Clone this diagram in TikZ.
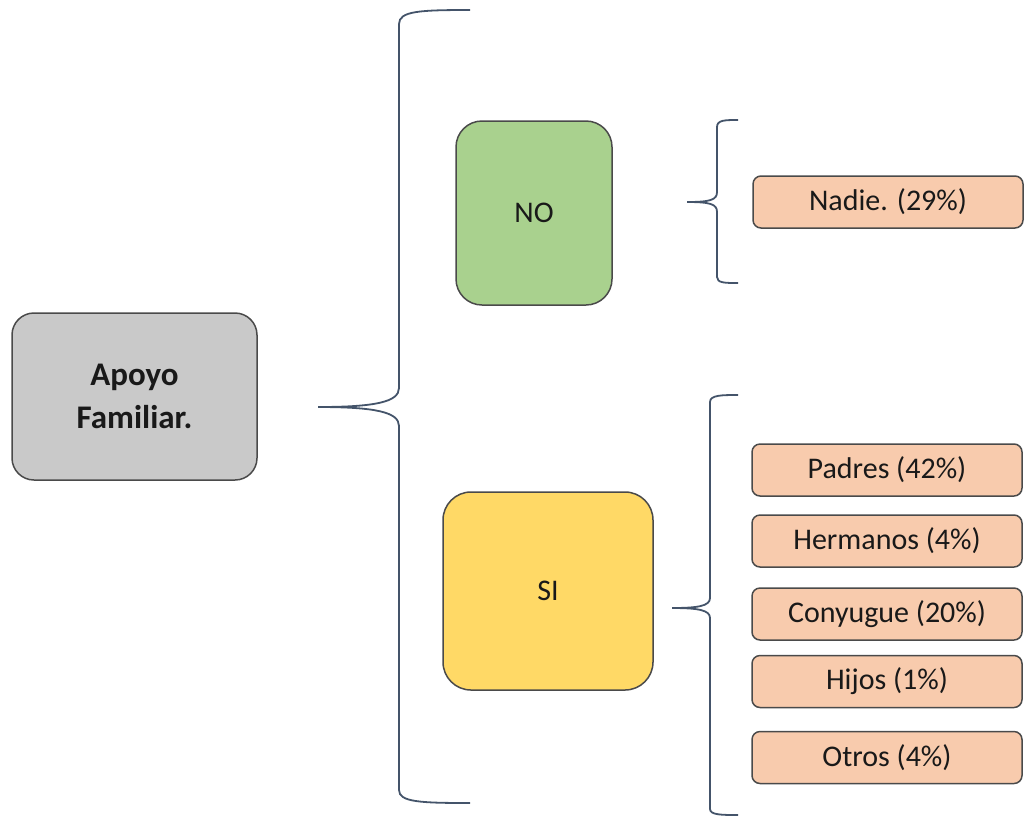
\documentclass[tikz,border=0pt]{standalone}
\usepackage{fontspec}
\setmainfont{Carlito}
\definecolor{graybox}{HTML}{C9C9C9}
\definecolor{greenbox}{HTML}{A9D18E}
\definecolor{yellowbox}{HTML}{FFD966}
\definecolor{orangebox}{HTML}{F8CBAD}
\definecolor{bracecol}{HTML}{44546A}
\definecolor{edgecol}{HTML}{4A4A4A}
\begin{document}
\begin{tikzpicture}[x=1pt,y=-1pt,
  box/.style={draw=edgecol,line width=1.5pt,rectangle,inner sep=0pt,text=black!90,font=\fontsize{30}{35}\selectfont},
  item/.style={box,fill=orangebox,rounded corners=8pt,minimum width=270pt,minimum height=52pt},
  brace/.style={draw=bracecol,line width=1.8pt}]
\useasboundingbox (0,0) rectangle (1024,820);
\node[box,fill=graybox,rounded corners=22pt,minimum width=245pt,minimum height=167pt,align=center,font=\fontsize{33}{43}\selectfont\bfseries] (apoyo) at (134.5,396.5) {Apoyo\\Familiar.};
\node[box,fill=greenbox,rounded corners=26pt,minimum width=156pt,minimum height=184pt] (no) at (534,213) {NO};
\node[box,fill=yellowbox,rounded corners=28pt,minimum width=210pt,minimum height=198pt] (si) at (548,591) {SI};
\node[item] (nadie) at (888,202) {Nadie. (29\%)};
\node[item] (padres) at (887,470) {Padres (42\%)};
\node[item] (hermanos) at (887,541) {Hermanos (4\%)};
\node[item] (conyugue) at (887,614) {Conyugue (20\%)};
\node[item] (hijos) at (887,681.5) {Hijos (1\%)};
\node[item] (otros) at (887,757.5) {Otros (4\%)};
% big brace
\coordinate (bt) at (318,407);
\draw[brace] (470,10) .. controls (420,10) and (399,11) .. (399,24) -- (399,388)
  .. controls (399,402) and (375,407) .. (bt)
  .. controls (375,407) and (399,412) .. (399,426) -- (399,790)
  .. controls (399,802) and (420,803) .. (470,803);
% brace NO
\coordinate (nt) at (687,202);
\draw[brace] (738,120) .. controls (725,120) and (717,120) .. (717,127) -- (717,192)
  .. controls (717,200) and (710,202) .. (nt)
  .. controls (710,202) and (717,204) .. (717,212) -- (717,277)
  .. controls (717,283) and (725,283) .. (738,283);
% brace SI
\coordinate (st) at (672,608);
\draw[brace] (738,395) .. controls (722,395) and (710,395) .. (710,402) -- (710,598)
  .. controls (710,606) and (698,608) .. (st)
  .. controls (698,608) and (710,610) .. (710,618) -- (710,809)
  .. controls (710,815) and (722,815) .. (738,815);
\end{tikzpicture}
\end{document}
